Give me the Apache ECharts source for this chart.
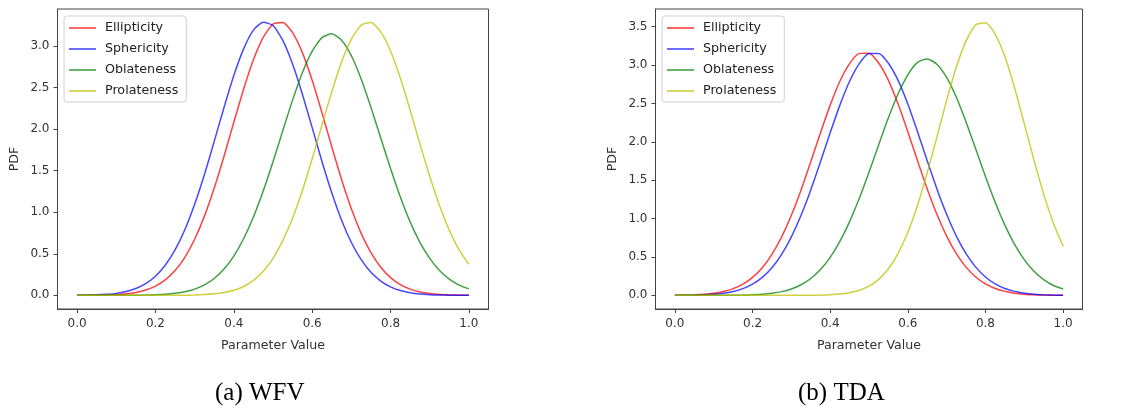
<!DOCTYPE html>
<html>
<head>
<meta charset="utf-8">
<script src="https://cdn.jsdelivr.net/npm/echarts@6/dist/echarts.min.js"></script>
<style>
html,body{margin:0;padding:0;background:#fff;}
#chart{width:1123px;height:410px;}
</style>
</head>
<body>
<div id="chart"></div>
<script>
// Parameter values (x axis samples)
const paramX = [0.000,0.025,0.050,0.075,0.100,0.125,0.150,0.175,0.200,0.225,0.250,0.275,0.300,0.325,0.350,0.375,0.400,0.425,0.450,0.475,0.500,0.525,0.550,0.575,0.600,0.625,0.650,0.675,0.700,0.725,0.750,0.775,0.800,0.825,0.850,0.875,0.900,0.925,0.950,0.975,1.000];

const seriesNames = ["Ellipticity","Sphericity","Oblateness","Prolateness"];
const xTicks = [0.0,0.2,0.4,0.6,0.8,1.0];
const yTicksWFV = [0.0,0.5,1.0,1.5,2.0,2.5,3.0];
const yTicksTDA = [0.0,0.5,1.0,1.5,2.0,2.5,3.0,3.5];
const captions = ["(a) WFV","(b) TDA"];

// (a) WFV
const wfvEllipticity = [0.000,0.001,0.002,0.005,0.009,0.018,0.035,0.064,0.111,0.186,0.298,0.458,0.675,0.953,1.290,1.674,2.082,2.480,2.833,3.103,3.262,3.282,3.159,2.919,2.586,2.195,1.787,1.393,1.041,0.746,0.513,0.338,0.213,0.129,0.075,0.041,0.022,0.011,0.006,0.003,0.001];
const wfvSphericity = [0.001,0.003,0.006,0.013,0.024,0.046,0.082,0.140,0.230,0.362,0.546,0.789,1.095,1.454,1.852,2.260,2.644,2.965,3.190,3.285,3.245,3.067,2.782,2.418,2.017,1.610,1.233,0.904,0.636,0.429,0.277,0.171,0.102,0.058,0.032,0.016,0.008,0.004,0.002,0.001,0.000];
const wfvOblateness = [0.000,0.000,0.000,0.000,0.000,0.001,0.002,0.003,0.006,0.013,0.024,0.043,0.075,0.126,0.203,0.316,0.473,0.681,0.942,1.255,1.607,1.981,2.348,2.677,2.936,3.100,3.146,3.068,2.882,2.603,2.261,1.893,1.525,1.183,0.884,0.638,0.445,0.300,0.196,0.124,0.078];
const wfvProlateness = [0.000,0.000,0.000,0.000,0.000,0.000,0.000,0.000,0.000,0.000,0.001,0.002,0.004,0.009,0.018,0.034,0.061,0.107,0.180,0.289,0.446,0.658,0.931,1.262,1.643,2.049,2.448,2.805,3.081,3.250,3.282,3.168,2.939,2.613,2.227,1.822,1.432,1.080,0.782,0.548,0.372];

// (b) TDA
const tdaEllipticity = [0.002,0.004,0.008,0.015,0.028,0.051,0.088,0.147,0.235,0.361,0.535,0.762,1.043,1.373,1.739,2.117,2.478,2.789,3.019,3.152,3.155,3.026,2.800,2.492,2.132,1.754,1.387,1.056,0.772,0.543,0.368,0.239,0.149,0.090,0.052,0.029,0.015,0.008,0.004,0.002,0.001];
const tdaSphericity = [0.001,0.002,0.004,0.008,0.015,0.028,0.051,0.088,0.147,0.235,0.361,0.535,0.762,1.043,1.373,1.739,2.117,2.478,2.789,3.019,3.150,3.152,3.024,2.800,2.492,2.132,1.754,1.387,1.056,0.772,0.543,0.368,0.239,0.149,0.090,0.052,0.029,0.015,0.008,0.004,0.002];
const tdaOblateness = [0.000,0.000,0.000,0.000,0.000,0.001,0.002,0.004,0.008,0.015,0.028,0.049,0.084,0.138,0.220,0.336,0.495,0.702,0.960,1.264,1.605,1.963,2.313,2.626,2.873,3.035,3.080,3.011,2.839,2.580,2.258,1.905,1.548,1.213,0.915,0.665,0.466,0.314,0.205,0.128,0.082];
const tdaProlateness = [0.000,0.000,0.000,0.000,0.000,0.000,0.000,0.000,0.000,0.000,0.000,0.000,0.000,0.001,0.002,0.004,0.008,0.017,0.034,0.066,0.120,0.209,0.347,0.548,0.822,1.174,1.596,2.063,2.540,2.975,3.315,3.525,3.552,3.404,3.110,2.704,2.236,1.761,1.319,0.940,0.640];

const colors = ["rgba(255,0,0,0.75)","rgba(0,0,255,0.72)","rgba(0,128,0,0.75)","rgba(191,191,0,0.75)"];
const font = "DejaVu Sans";

function pairs(vals){ return paramX.map((x,i)=>[x, vals[i]]); }

const wfvData = [wfvEllipticity, wfvSphericity, wfvOblateness, wfvProlateness];
const tdaData = [tdaEllipticity, tdaSphericity, tdaOblateness, tdaProlateness];

function xAxisCfg(gridIndex){
  return {
    type:'value', gridIndex, min:-0.05, max:1.05,
    name:'Parameter Value', nameLocation:'middle', nameGap:30,
    nameTextStyle:{fontFamily:font,fontSize:12.6,color:'#333'},
    axisLine:{show:true,onZero:false,lineStyle:{color:'#444',width:1}},
    axisTick:{show:true,length:4,lineStyle:{color:'#444'},customValues:xTicks},
    axisLabel:{fontFamily:font,fontSize:12,color:'#333',margin:9,customValues:xTicks,formatter:v=>v.toFixed(1)},
    splitLine:{show:false}
  };
}
function yAxisCfg(gridIndex,min,max,ticks){
  return {
    type:'value', gridIndex, min, max,
    name:'PDF', nameLocation:'middle', nameGap:36,
    nameTextStyle:{fontFamily:font,fontSize:12.6,color:'#333'},
    axisLine:{show:true,onZero:false,lineStyle:{color:'#444',width:1}},
    axisTick:{show:true,length:4,lineStyle:{color:'#444'},customValues:ticks},
    axisLabel:{fontFamily:font,fontSize:12,color:'#333',margin:8,customValues:ticks,formatter:v=>v.toFixed(1)},
    splitLine:{show:false}
  };
}

const series = [];
[wfvData, tdaData].forEach((set, gi)=>{
  set.forEach((vals, si)=>{
    series.push({
      type:'line', name:seriesNames[si], xAxisIndex:gi, yAxisIndex:gi,
      data:pairs(vals), smooth:0.2, showSymbol:false, symbol:'none',
      lineStyle:{color:colors[si],width:1.5}, itemStyle:{color:colors[si]},
      z:2+si
    });
  });
});

function legendCfg(left){
  return {
    orient:'vertical', left, top:16,
    data:seriesNames,
    icon:'rect', itemWidth:27, itemHeight:1.6, itemGap:7,
    padding:[5,8,4,5],
    backgroundColor:'rgba(255,255,255,0.85)', borderColor:'#d0d0d0', borderWidth:1, borderRadius:3,
    textStyle:{fontFamily:font,fontSize:12.7,color:'#222',lineHeight:14,padding:[0,0,0,4]},
    selectedMode:false
  };
}

const chart = echarts.init(document.getElementById('chart'), null, {renderer:'canvas'});
chart.setOption({
  animation:false,
  backgroundColor:'#fff',
  grid:[
    {left:57.5, top:9, width:431, height:300, show:true, borderColor:'#444', borderWidth:1, backgroundColor:'transparent'},
    {left:655.5, top:9, width:427, height:300, show:true, borderColor:'#444', borderWidth:1, backgroundColor:'transparent'}
  ],
  xAxis:[xAxisCfg(0), xAxisCfg(1)],
  yAxis:[yAxisCfg(0,-0.164,3.444,yTicksWFV), yAxisCfg(1,-0.1775,3.73,yTicksTDA)],
  legend:[legendCfg(64), legendCfg(662)],
  series,
  graphic:[
    {type:'text', left:215, top:381, style:{text:captions[0], font:'25px "Liberation Serif"', fill:'#000'}},
    {type:'text', left:798, top:381, style:{text:captions[1], font:'25px "Liberation Serif"', fill:'#000'}}
  ]
});
</script>
</body>
</html>
